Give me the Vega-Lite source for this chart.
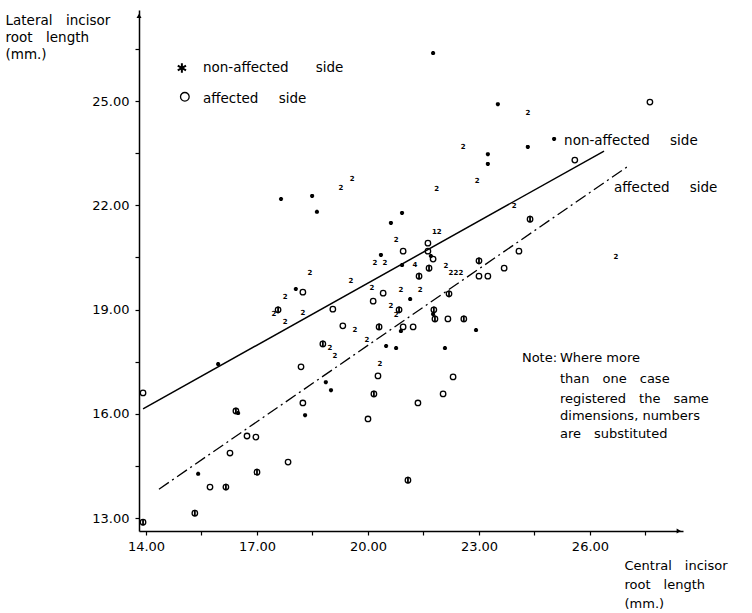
{
  "$schema": "https://vega.github.io/schema/vega-lite/v6.json",
  "width": 544,
  "height": 521,
  "autosize": {"type": "none"},
  "padding": {"left": 139, "top": 10, "right": 69, "bottom": 82},
  "background": "white",
  "config": {"view": {"stroke": null}, "font": "DejaVu Sans"},
  "datasets": {
    "points": [
      {"x": 21.76, "y": 26.38, "type": "non"},
      {"x": 23.51, "y": 24.91, "type": "non"},
      {"x": 25.03, "y": 23.91, "type": "non"},
      {"x": 24.32, "y": 23.68, "type": "non"},
      {"x": 23.24, "y": 23.47, "type": "non"},
      {"x": 23.24, "y": 23.19, "type": "non"},
      {"x": 17.65, "y": 22.18, "type": "non"},
      {"x": 18.49, "y": 22.27, "type": "non"},
      {"x": 18.62, "y": 21.81, "type": "non"},
      {"x": 20.92, "y": 21.78, "type": "non"},
      {"x": 20.62, "y": 21.49, "type": "non"},
      {"x": 18.05, "y": 19.59, "type": "non"},
      {"x": 20.35, "y": 20.57, "type": "non"},
      {"x": 20.92, "y": 20.28, "type": "non"},
      {"x": 21.14, "y": 19.30, "type": "non"},
      {"x": 21.76, "y": 18.87, "type": "non"},
      {"x": 20.89, "y": 18.38, "type": "non"},
      {"x": 22.92, "y": 18.41, "type": "non"},
      {"x": 20.49, "y": 17.95, "type": "non"},
      {"x": 20.76, "y": 17.89, "type": "non"},
      {"x": 22.08, "y": 17.89, "type": "non"},
      {"x": 15.95, "y": 17.43, "type": "non"},
      {"x": 18.86, "y": 16.91, "type": "non"},
      {"x": 19.00, "y": 16.68, "type": "non"},
      {"x": 18.30, "y": 15.96, "type": "non"},
      {"x": 15.41, "y": 14.27, "type": "non"},
      {"x": 16.49, "y": 16.02, "type": "non"},
      {"x": 21.70, "y": 20.54, "type": "non"},
      {"x": 27.62, "y": 24.97, "type": "aff"},
      {"x": 25.59, "y": 23.30, "type": "aff"},
      {"x": 24.08, "y": 20.68, "type": "aff"},
      {"x": 23.68, "y": 20.19, "type": "aff"},
      {"x": 23.00, "y": 19.96, "type": "aff"},
      {"x": 23.24, "y": 19.96, "type": "aff"},
      {"x": 21.62, "y": 20.91, "type": "aff"},
      {"x": 20.95, "y": 20.68, "type": "aff"},
      {"x": 21.62, "y": 20.68, "type": "aff"},
      {"x": 21.76, "y": 20.45, "type": "aff"},
      {"x": 18.24, "y": 19.50, "type": "aff"},
      {"x": 20.14, "y": 19.24, "type": "aff"},
      {"x": 20.41, "y": 19.47, "type": "aff"},
      {"x": 19.05, "y": 19.01, "type": "aff"},
      {"x": 19.32, "y": 18.53, "type": "aff"},
      {"x": 22.16, "y": 18.73, "type": "aff"},
      {"x": 20.95, "y": 18.50, "type": "aff"},
      {"x": 21.22, "y": 18.50, "type": "aff"},
      {"x": 18.19, "y": 17.35, "type": "aff"},
      {"x": 13.92, "y": 16.60, "type": "aff"},
      {"x": 18.24, "y": 16.31, "type": "aff"},
      {"x": 20.00, "y": 15.85, "type": "aff"},
      {"x": 20.27, "y": 17.09, "type": "aff"},
      {"x": 22.30, "y": 17.06, "type": "aff"},
      {"x": 22.03, "y": 16.57, "type": "aff"},
      {"x": 21.35, "y": 16.31, "type": "aff"},
      {"x": 16.73, "y": 15.36, "type": "aff"},
      {"x": 16.97, "y": 15.33, "type": "aff"},
      {"x": 16.27, "y": 14.87, "type": "aff"},
      {"x": 17.84, "y": 14.61, "type": "aff"},
      {"x": 15.73, "y": 13.89, "type": "aff"},
      {"x": 24.38, "y": 21.60, "type": "both"},
      {"x": 23.00, "y": 20.40, "type": "both"},
      {"x": 21.65, "y": 20.19, "type": "both"},
      {"x": 21.38, "y": 19.96, "type": "both"},
      {"x": 22.19, "y": 19.45, "type": "both"},
      {"x": 17.57, "y": 18.99, "type": "both"},
      {"x": 20.84, "y": 18.99, "type": "both"},
      {"x": 21.78, "y": 18.99, "type": "both"},
      {"x": 21.81, "y": 18.73, "type": "both"},
      {"x": 22.59, "y": 18.73, "type": "both"},
      {"x": 20.30, "y": 18.50, "type": "both"},
      {"x": 18.78, "y": 18.01, "type": "both"},
      {"x": 20.16, "y": 16.57, "type": "both"},
      {"x": 16.43, "y": 16.08, "type": "both"},
      {"x": 17.00, "y": 14.32, "type": "both"},
      {"x": 16.16, "y": 13.89, "type": "both"},
      {"x": 15.32, "y": 13.14, "type": "both"},
      {"x": 21.08, "y": 14.09, "type": "both"},
      {"x": 13.92, "y": 12.88, "type": "both"},
      {"x": 24.32, "y": 24.65, "type": "num", "n": "2"},
      {"x": 22.57, "y": 23.68, "type": "num", "n": "2"},
      {"x": 22.95, "y": 22.70, "type": "num", "n": "2"},
      {"x": 21.86, "y": 22.47, "type": "num", "n": "2"},
      {"x": 23.95, "y": 21.98, "type": "num", "n": "2"},
      {"x": 26.70, "y": 20.51, "type": "num", "n": "2"},
      {"x": 19.27, "y": 22.50, "type": "num", "n": "2"},
      {"x": 19.57, "y": 22.76, "type": "num", "n": "2"},
      {"x": 21.86, "y": 21.23, "type": "num", "n": "12"},
      {"x": 20.76, "y": 21.00, "type": "num", "n": "2"},
      {"x": 18.43, "y": 20.05, "type": "num", "n": "2"},
      {"x": 19.54, "y": 19.82, "type": "num", "n": "2"},
      {"x": 17.76, "y": 19.36, "type": "num", "n": "2"},
      {"x": 20.19, "y": 20.34, "type": "num", "n": "2"},
      {"x": 20.46, "y": 20.34, "type": "num", "n": "2"},
      {"x": 21.27, "y": 20.28, "type": "num", "n": "4"},
      {"x": 22.11, "y": 20.25, "type": "num", "n": "2"},
      {"x": 22.24, "y": 20.05, "type": "num", "n": "2"},
      {"x": 22.38, "y": 20.05, "type": "num", "n": "2"},
      {"x": 22.51, "y": 20.05, "type": "num", "n": "2"},
      {"x": 20.11, "y": 19.62, "type": "num", "n": "2"},
      {"x": 20.89, "y": 19.56, "type": "num", "n": "2"},
      {"x": 21.41, "y": 19.56, "type": "num", "n": "2"},
      {"x": 17.46, "y": 18.87, "type": "num", "n": "2"},
      {"x": 17.76, "y": 18.64, "type": "num", "n": "2"},
      {"x": 18.24, "y": 18.90, "type": "num", "n": "2"},
      {"x": 19.65, "y": 18.41, "type": "num", "n": "2"},
      {"x": 19.97, "y": 18.12, "type": "num", "n": "2"},
      {"x": 18.97, "y": 17.89, "type": "num", "n": "2"},
      {"x": 19.11, "y": 17.66, "type": "num", "n": "2"},
      {"x": 20.62, "y": 19.10, "type": "num", "n": "2"},
      {"x": 20.76, "y": 18.84, "type": "num", "n": "2"},
      {"x": 20.32, "y": 17.43, "type": "num", "n": "2"}
    ],
    "lines": [
      {"line": "non", "x": 13.92, "y": 16.14},
      {"line": "non", "x": 26.38, "y": 23.56},
      {"line": "aff", "x": 14.35, "y": 13.83},
      {"line": "aff", "x": 27.08, "y": 23.16}
    ],
    "legend": [
      {"sym": "star", "x": 14.97, "y": 25.95},
      {"sym": "circle", "x": 15.05, "y": 25.12}
    ],
    "labels": [
      {"text": "non-affected\u2003\u2003side", "x": 15.54, "y": 25.95},
      {"text": "affected\u2003\u2002side", "x": 15.54, "y": 25.06},
      {"text": "non-affected\u2003\u2002side", "x": 25.30, "y": 23.85},
      {"text": "affected\u2003\u2002side", "x": 26.65, "y": 22.50}
    ],
    "note": [
      {"text": "Note:", "x": 24.16, "y": 17.60},
      {"text": "Where more", "x": 25.19, "y": 17.60},
      {"text": "than\u2003one\u2003case", "x": 25.19, "y": 17.00},
      {"text": "registered\u2003the\u2003same", "x": 25.19, "y": 16.42},
      {"text": "dimensions, numbers", "x": 25.19, "y": 15.94},
      {"text": "are\u2003substituted", "x": 25.19, "y": 15.42}
    ],
    "arrows": [
      {"dir": "up", "x": 13.811, "y": 27.45},
      {"dir": "right", "x": 28.40, "y": 12.626}
    ]
  },
  "encoding": {
    "x": {
      "field": "x",
      "type": "quantitative",
      "scale": {"domain": [13.811, 28.514], "nice": false, "zero": false},
      "axis": {
        "values": [14, 15.5, 17, 18.5, 20, 21.5, 23, 24.5, 26, 27.5],
        "labelExpr": "datum.value % 3 == 2 ? format(datum.value, '.2f') : ''",
        "labelFontSize": 13,
        "labelColor": "black",
        "labelPadding": 5,
        "labelFlush": false,
        "labelOverlap": false,
        "grid": false,
        "domainColor": "black",
        "domainWidth": 1.5,
        "tickColor": "black",
        "tickSize": 4,
        "tickWidth": 1.2,
        "title": ["Central\u2003incisor", "root\u2003length", "(mm.)"],
        "titleX": 485,
        "titleY": 28,
        "titleAlign": "left",
        "titleAnchor": "start",
        "titleBaseline": "top",
        "titleAngle": 0,
        "titleFontSize": 13,
        "titleFontWeight": "normal",
        "titleColor": "black",
        "titleLineHeight": 19
      }
    },
    "y": {
      "field": "y",
      "type": "quantitative",
      "scale": {"domain": [12.626, 27.619], "nice": false, "zero": false},
      "axis": {
        "values": [13, 14.5, 16, 17.5, 19, 20.5, 22, 23.5, 25, 26.5],
        "labelExpr": "datum.value % 3 == 1 ? format(datum.value, '.2f') : ''",
        "labelFontSize": 13,
        "labelColor": "black",
        "labelPadding": 6,
        "labelFlush": false,
        "labelOverlap": false,
        "grid": false,
        "domainColor": "black",
        "domainWidth": 1.5,
        "tickColor": "black",
        "tickSize": 4,
        "tickWidth": 1.2,
        "title": ["Lateral\u2003incisor", "root\u2003length", "(mm.)"],
        "titleX": -134,
        "titleY": 3,
        "titleAlign": "left",
        "titleAnchor": "start",
        "titleBaseline": "top",
        "titleAngle": 0,
        "titleFontSize": 13.5,
        "titleFontWeight": "normal",
        "titleColor": "black",
        "titleLineHeight": 17
      }
    }
  },
  "layer": [
    {
      "data": {"name": "lines"},
      "transform": [{"filter": "datum.line == 'non'"}],
      "mark": {"type": "line", "stroke": "black", "strokeWidth": 1.5}
    },
    {
      "data": {"name": "lines"},
      "transform": [{"filter": "datum.line == 'aff'"}],
      "mark": {"type": "line", "stroke": "black", "strokeWidth": 1.3, "strokeDash": [12, 4, 2, 4]}
    },
    {
      "data": {"name": "points"},
      "transform": [{"filter": "datum.type == 'aff' || datum.type == 'both'"}],
      "mark": {"type": "point", "shape": "circle", "filled": false, "size": 30, "stroke": "black", "strokeWidth": 1.3, "opacity": 1}
    },
    {
      "data": {"name": "points"},
      "transform": [{"filter": "datum.type == 'both'"}],
      "mark": {"type": "point", "shape": "M0,-1.2L0,1.2", "filled": false, "size": 30, "stroke": "black", "strokeWidth": 1.8, "opacity": 1}
    },
    {
      "data": {"name": "points"},
      "transform": [{"filter": "datum.type == 'non'"}],
      "mark": {"type": "point", "shape": "M0,-1L0,1M-0.87,-0.5L0.87,0.5M-0.87,0.5L0.87,-0.5", "filled": false, "size": 16, "stroke": "black", "strokeWidth": 2, "opacity": 1}
    },
    {
      "data": {"name": "points"},
      "transform": [{"filter": "datum.type == 'num'"}],
      "mark": {"type": "text", "fontSize": 7, "fontWeight": "bold", "align": "center", "baseline": "middle", "color": "black"},
      "encoding": {"text": {"field": "n", "type": "nominal"}}
    },
    {
      "data": {"name": "legend"},
      "transform": [{"filter": "datum.sym == 'star'"}],
      "mark": {"type": "point", "shape": "M0,-1L0,1M-0.87,-0.5L0.87,0.5M-0.87,0.5L0.87,-0.5", "filled": false, "size": 90, "stroke": "black", "strokeWidth": 2, "opacity": 1}
    },
    {
      "data": {"name": "legend"},
      "transform": [{"filter": "datum.sym == 'circle'"}],
      "mark": {"type": "point", "shape": "circle", "filled": false, "size": 75, "stroke": "black", "strokeWidth": 1.3, "opacity": 1}
    },
    {
      "data": {"name": "labels"},
      "mark": {"type": "text", "fontSize": 13.5, "align": "left", "baseline": "middle", "color": "black"},
      "encoding": {"text": {"field": "text", "type": "nominal"}}
    },
    {
      "data": {"name": "note"},
      "mark": {"type": "text", "fontSize": 13, "align": "left", "baseline": "middle", "color": "black"},
      "encoding": {"text": {"field": "text", "type": "nominal"}}
    },
    {
      "data": {"name": "arrows"},
      "transform": [{"filter": "datum.dir == 'up'"}],
      "mark": {"type": "point", "shape": "triangle-up", "filled": true, "size": 25, "color": "black", "opacity": 1}
    },
    {
      "data": {"name": "arrows"},
      "transform": [{"filter": "datum.dir == 'right'"}],
      "mark": {"type": "point", "shape": "triangle-right", "filled": true, "size": 25, "color": "black", "opacity": 1}
    }
  ]
}
